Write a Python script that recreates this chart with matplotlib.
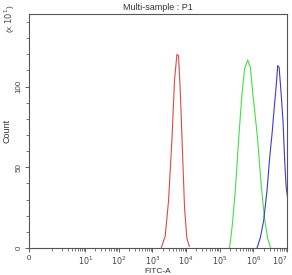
import numpy as np
import matplotlib
matplotlib.use("Agg")
import matplotlib.pyplot as plt
from matplotlib.ticker import FixedLocator, FixedFormatter
from matplotlib.transforms import ScaledTranslation

plt.rcParams["font.family"] = ["Liberation Sans", "DejaVu Sans"]

# histogram outlines: FITC-A value vs count (x10^1)
red_x = [1820, 2390, 2990, 3780, 4510, 5320, 5930, 6670, 7800, 8950, 10500, 12400]
red_y = [0, 7.5, 29, 67, 104, 120, 119, 98, 59, 25, 6, 1]

green_x = [195e3, 231e3, 289e3, 362e3, 457e3, 547e3, 671e3, 807e3, 972e3,
           1138e3, 1333e3, 1683e3, 2110e3, 2643e3, 3183e3]
green_y = [0, 12.7, 35.6, 67, 96, 111, 116.5, 112, 94, 81, 67, 40, 19, 6, 0.5]

blue_x = [1279e3, 1604e3, 2011e3, 2535e3, 3032e3, 3574e3, 4186e3, 4800e3,
          5248e3, 5780e3, 6622e3, 7603e3, 8472e3, 9333e3, 10500e3]
blue_y = [0, 6.5, 17, 36, 56, 71, 88, 102, 113, 112, 96, 77.5, 54, 38, 30]

x_major = [0, 10, 1e2, 1e3, 1e4, 1e5, 1e6, 1e7]
x_labels = ["0", "$10^{1}$", "$10^{2}$", "$10^{3}$", "$10^{4}$", "$10^{5}$", "$10^{6}$", "$10^{7}$"]

C = 0.214


def fwd(x):
    return np.arcsinh(np.asarray(x, dtype=float) / (2 * C)) / np.log(10)


def inv(y):
    return 2 * C * np.sinh(np.asarray(y, dtype=float) * np.log(10))


fig = plt.figure(figsize=(2.92, 2.75), dpi=100)
ax = fig.add_axes([0.0993, 0.0982, 0.884, 0.851])
ax.set_xscale("function", functions=(fwd, inv))

ax.plot(red_x, red_y, color="#e04848", lw=0.8)
ax.plot(green_x, green_y, color="#44e044", lw=0.8)
ax.plot(blue_x, blue_y, color="#3c3cd0", lw=0.8)

ax.set_xlim(0, 1e7)
ax.set_ylim(0, 145)

minor = [m * 10 ** k for k in range(0, 7) for m in range(2, 10)] + [1]
ax.xaxis.set_major_locator(FixedLocator(x_major))
ax.xaxis.set_major_formatter(FixedFormatter(x_labels))
ax.xaxis.set_minor_locator(FixedLocator(minor))

ax.yaxis.set_major_locator(FixedLocator([0, 50, 100]))
ax.yaxis.set_minor_locator(FixedLocator(range(10, 150, 10)))

ax.tick_params(axis="both", which="major", direction="out", length=3, width=0.6,
               labelsize=5.8, colors="#444444", pad=1.5)
ax.tick_params(axis="x", which="major", pad=1.5)
ax.tick_params(axis="both", which="minor", direction="out", length=2, width=0.5, colors="#444444")
for lab in ax.get_yticklabels():
    lab.set_rotation(90)
    lab.set_va("center")
labs = ax.get_xticklabels()
labs[-1].set_ha("right")
# nudge the plain "0" a touch so it sits level with the "10"s
labs[0].set_transform(labs[0].get_transform() + ScaledTranslation(0, -0.8 / 72, fig.dpi_scale_trans))

for sp in ax.spines.values():
    sp.set_color("#555555")
    sp.set_linewidth(0.8)

ax.set_title("Multi-sample : P1", fontsize=6.5, color="#333333", pad=3)
ax.set_xlabel("FITC-A", fontsize=6, color="#333333", labelpad=0)
ax.xaxis.set_label_coords(0.5, -0.085)
ax.set_ylabel("Count", fontsize=6.5, color="#333333", labelpad=3)
fig.text(0.035, 0.93, "(x $10^{1}$)", rotation=90, fontsize=6, color="#444444",
         ha="center", va="center")

fig.savefig("out.png", dpi=100)
